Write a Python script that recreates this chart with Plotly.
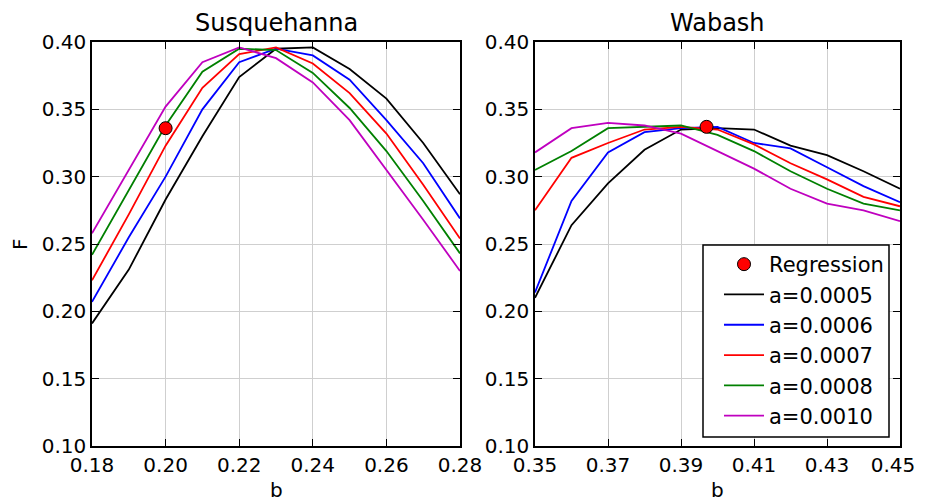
"""Parameter sweep of F against b for two rivers."""
import plotly.graph_objects as go

# b values for each river
b_susq = [0.18, 0.19, 0.20, 0.21, 0.22, 0.23, 0.24, 0.25, 0.26, 0.27, 0.28]
b_wab = [0.35, 0.36, 0.37, 0.38, 0.39, 0.40, 0.41, 0.42, 0.43, 0.44, 0.45]

# tick labels; the trailing spaces on the last one keep it inside the window
susq_ticks = [0.18, 0.20, 0.22, 0.24, 0.26, 0.28]
susq_ticktext = ["0.18", "0.20", "0.22", "0.24", "0.26", "0.28"]
wab_ticks = [0.35, 0.37, 0.39, 0.41, 0.43, 0.45]
wab_ticktext = ["0.35", "0.37", "0.39", "0.41", "0.43", "0.45\u2002\u2009"]

a_labels = ["a=0.0005", "a=0.0006", "a=0.0007", "a=0.0008", "a=0.0010"]
a_colors = ["#000000", "#0000ff", "#ff0000", "#008000", "#bf00bf"]

# F values, Susquehanna
susq_a0005 = [0.191, 0.231, 0.283, 0.330, 0.374, 0.395, 0.396, 0.380, 0.358, 0.325, 0.287]
susq_a0006 = [0.207, 0.255, 0.300, 0.350, 0.385, 0.395, 0.390, 0.372, 0.342, 0.310, 0.269]
susq_a0007 = [0.223, 0.272, 0.323, 0.366, 0.391, 0.396, 0.384, 0.362, 0.332, 0.294, 0.254]
susq_a0008 = [0.242, 0.290, 0.338, 0.378, 0.395, 0.394, 0.377, 0.351, 0.319, 0.282, 0.243]
susq_a0010 = [0.258, 0.305, 0.352, 0.385, 0.396, 0.388, 0.370, 0.342, 0.305, 0.268, 0.230]

# F values, Wabash
wab_a0005 = [0.210, 0.264, 0.295, 0.320, 0.335, 0.336, 0.335, 0.323, 0.316, 0.304, 0.291]
wab_a0006 = [0.214, 0.282, 0.318, 0.333, 0.336, 0.337, 0.325, 0.321, 0.307, 0.293, 0.281]
wab_a0007 = [0.275, 0.314, 0.325, 0.335, 0.337, 0.335, 0.324, 0.310, 0.298, 0.285, 0.278]
wab_a0008 = [0.305, 0.319, 0.336, 0.337, 0.338, 0.331, 0.319, 0.304, 0.291, 0.280, 0.275]
wab_a0010 = [0.318, 0.336, 0.340, 0.338, 0.332, 0.319, 0.306, 0.291, 0.280, 0.275, 0.267]

# regression estimates (b, F)
regression_susq = (0.200, 0.336)
regression_wab = (0.397, 0.337)

FONT = "DejaVu Sans"

# the page body adds an 8px margin, so lay out in window pixels minus that
OFF = 8
W, H = 925 - OFF, 504 - OFF


def px(x):
    return (x - OFF) / W


def py(y):
    return 1 - (y - OFF) / H


fig = go.Figure()

panels = [
    ("x", "y", b_susq, [susq_a0005, susq_a0006, susq_a0007, susq_a0008, susq_a0010], False),
    ("x2", "y2", b_wab, [wab_a0005, wab_a0006, wab_a0007, wab_a0008, wab_a0010], True),
]

for xref, yref, b_vals, series, show in panels:
    for label, color, vals in zip(a_labels, a_colors, series):
        fig.add_trace(
            go.Scatter(
                x=b_vals, y=vals, mode="lines", name=label,
                line=dict(color=color, width=1.8),
                xaxis=xref, yaxis=yref, showlegend=show, legendrank=2,
            )
        )

# regression points go on top of the lines, but first in the legend
for xref, yref, reg, show in [("x", "y", regression_susq, False), ("x2", "y2", regression_wab, True)]:
    fig.add_trace(
        go.Scatter(
            x=[reg[0]], y=[reg[1]], mode="markers", name="Regression",
            marker=dict(color="#ff0000", size=13, line=dict(color="#000000", width=1)),
            xaxis=xref, yaxis=yref, showlegend=show, legendrank=1,
        )
    )

axis_style = dict(
    showline=True, linecolor="#000000", linewidth=1.5, mirror="ticks",
    ticks="inside", ticklen=7, tickwidth=1.2, tickcolor="#000000",
    showgrid=True, gridcolor="#cfcfcf", gridwidth=1, zeroline=False,
    tickfont=dict(family=FONT, size=20, color="#000000"),
    tickformat=".2f", automargin=False,
)

y_dom = [py(446), py(42)]

fig.update_layout(
    width=W, height=H,
    margin=dict(l=0, r=0, t=0, b=0),
    plot_bgcolor="#ffffff", paper_bgcolor="#ffffff",
    font=dict(family=FONT, size=20, color="#000000"),
    xaxis=dict(axis_style, domain=[px(92), px(460)], range=[0.18, 0.28],
               tickvals=susq_ticks, ticktext=susq_ticktext, anchor="y"),
    xaxis2=dict(axis_style, domain=[px(535), px(900)], range=[0.35, 0.45],
                tickvals=wab_ticks, ticktext=wab_ticktext, anchor="y2",
                ticklabeloverflow="allow"),
    yaxis=dict(axis_style, domain=y_dom, range=[0.10, 0.40], dtick=0.05, anchor="x"),
    yaxis2=dict(axis_style, domain=y_dom, range=[0.10, 0.40], dtick=0.05, anchor="x2"),
    legend=dict(
        x=px(719), y=py(244), xanchor="left", yanchor="top",
        bgcolor="rgba(0,0,0,0)", borderwidth=0, itemwidth=40,
        font=dict(family=FONT, size=21, color="#000000"),
        tracegroupgap=0,
    ),
    shapes=[
        # legend frame
        dict(type="rect", xref="paper", yref="paper", layer="above",
             x0=px(703), x1=px(889), y0=py(437), y1=py(245),
             fillcolor="#ffffff", line=dict(color="#000000", width=1.5)),
    ],
    annotations=[
        dict(text="Susquehanna", xref="x domain", yref="y domain", x=0.5, y=1,
             xanchor="center", yanchor="bottom", yshift=3, showarrow=False,
             font=dict(family=FONT, size=24, color="#000000")),
        dict(text="Wabash", xref="x2 domain", yref="y2 domain", x=0.5, y=1,
             xanchor="center", yanchor="bottom", yshift=3, showarrow=False,
             font=dict(family=FONT, size=24, color="#000000")),
        dict(text="b", xref="x domain", yref="paper", x=0.5, y=py(490),
             xanchor="center", yanchor="middle", showarrow=False,
             font=dict(family=FONT, size=20, color="#000000")),
        dict(text="b", xref="x2 domain", yref="paper", x=0.5, y=py(490),
             xanchor="center", yanchor="middle", showarrow=False,
             font=dict(family=FONT, size=20, color="#000000")),
        dict(text="F", xref="paper", yref="y domain", x=px(20), y=0.5,
             xanchor="center", yanchor="middle", showarrow=False, textangle=-90,
             font=dict(family=FONT, size=20, color="#000000")),
    ],
)

fig.write_html("out.html")
